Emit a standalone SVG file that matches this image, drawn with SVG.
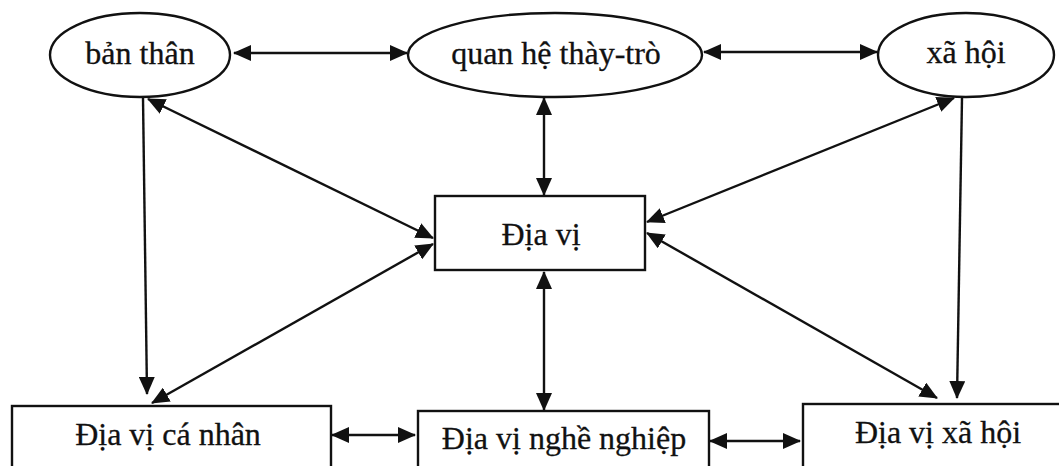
<svg xmlns="http://www.w3.org/2000/svg" width="1059" height="466" viewBox="0 0 1059 466">
<style>
.shape{fill:#ffffff;stroke:#111111;stroke-width:2.4}
.lbl{font-family:"Liberation Serif","Times New Roman",serif;font-size:32px;fill:#111111;stroke:#111111;stroke-width:0.3;text-anchor:middle}
.con{stroke:#111111;stroke-width:2.4;fill:none}
</style>
<defs>
<marker id="ah" markerUnits="userSpaceOnUse" viewBox="0 0 18 16" markerWidth="18" markerHeight="16" refX="17" refY="8" orient="auto-start-reverse">
<path d="M0,0 L18,8 L0,16 z" fill="#111111"/>
</marker>
</defs>
<rect width="1059" height="466" fill="#ffffff"/>
<g id="connectors">
<line class="con" x1="234" y1="53" x2="407" y2="53" marker-start="url(#ah)" marker-end="url(#ah)"/>
<line class="con" x1="704" y1="52" x2="877" y2="52" marker-start="url(#ah)" marker-end="url(#ah)"/>
<line class="con" x1="544" y1="98" x2="544" y2="195" marker-start="url(#ah)" marker-end="url(#ah)"/>
<line class="con" x1="143" y1="98" x2="147" y2="394" marker-end="url(#ah)"/>
<line class="con" x1="148" y1="99" x2="433" y2="238" marker-start="url(#ah)" marker-end="url(#ah)"/>
<line class="con" x1="152" y1="403" x2="433" y2="244" marker-start="url(#ah)" marker-end="url(#ah)"/>
<line class="con" x1="954" y1="98" x2="647" y2="222" marker-start="url(#ah)" marker-end="url(#ah)"/>
<line class="con" x1="962" y1="98" x2="957" y2="398" marker-end="url(#ah)"/>
<line class="con" x1="647" y1="233" x2="937" y2="398" marker-start="url(#ah)" marker-end="url(#ah)"/>
<line class="con" x1="544" y1="272" x2="544" y2="410" marker-start="url(#ah)" marker-end="url(#ah)"/>
<line class="con" x1="332" y1="435" x2="415" y2="435" marker-start="url(#ah)" marker-end="url(#ah)"/>
<line class="con" x1="710" y1="441" x2="800" y2="441" marker-start="url(#ah)" marker-end="url(#ah)"/>
</g>
<g id="node-ban-than">
<ellipse class="shape" cx="140" cy="55" rx="90" ry="42"/>
<text class="lbl" x="140" y="64">bản thân</text>
</g>
<g id="node-quan-he">
<ellipse class="shape" cx="555" cy="55" rx="147" ry="42"/>
<text class="lbl" x="556" y="64">quan hệ thày-trò</text>
</g>
<g id="node-xa-hoi">
<ellipse class="shape" cx="966" cy="55" rx="88" ry="42"/>
<text class="lbl" x="966" y="63">xã hội</text>
</g>
<g id="node-dia-vi">
<rect class="shape" x="435" y="196" width="210" height="74"/>
<text class="lbl" x="541" y="245">Địa vị</text>
</g>
<g id="node-ca-nhan">
<rect class="shape" x="12" y="406" width="319" height="80"/>
<text class="lbl" x="168" y="445">Địa vị cá nhân</text>
</g>
<g id="node-nghe-nghiep">
<rect class="shape" x="418" y="411" width="291" height="80"/>
<text class="lbl" x="564" y="449">Địa vị nghề nghiệp</text>
</g>
<g id="node-dv-xa-hoi">
<rect class="shape" x="803" y="404" width="280" height="80"/>
<text class="lbl" x="938" y="443">Địa vị xã hội</text>
</g>
</svg>
